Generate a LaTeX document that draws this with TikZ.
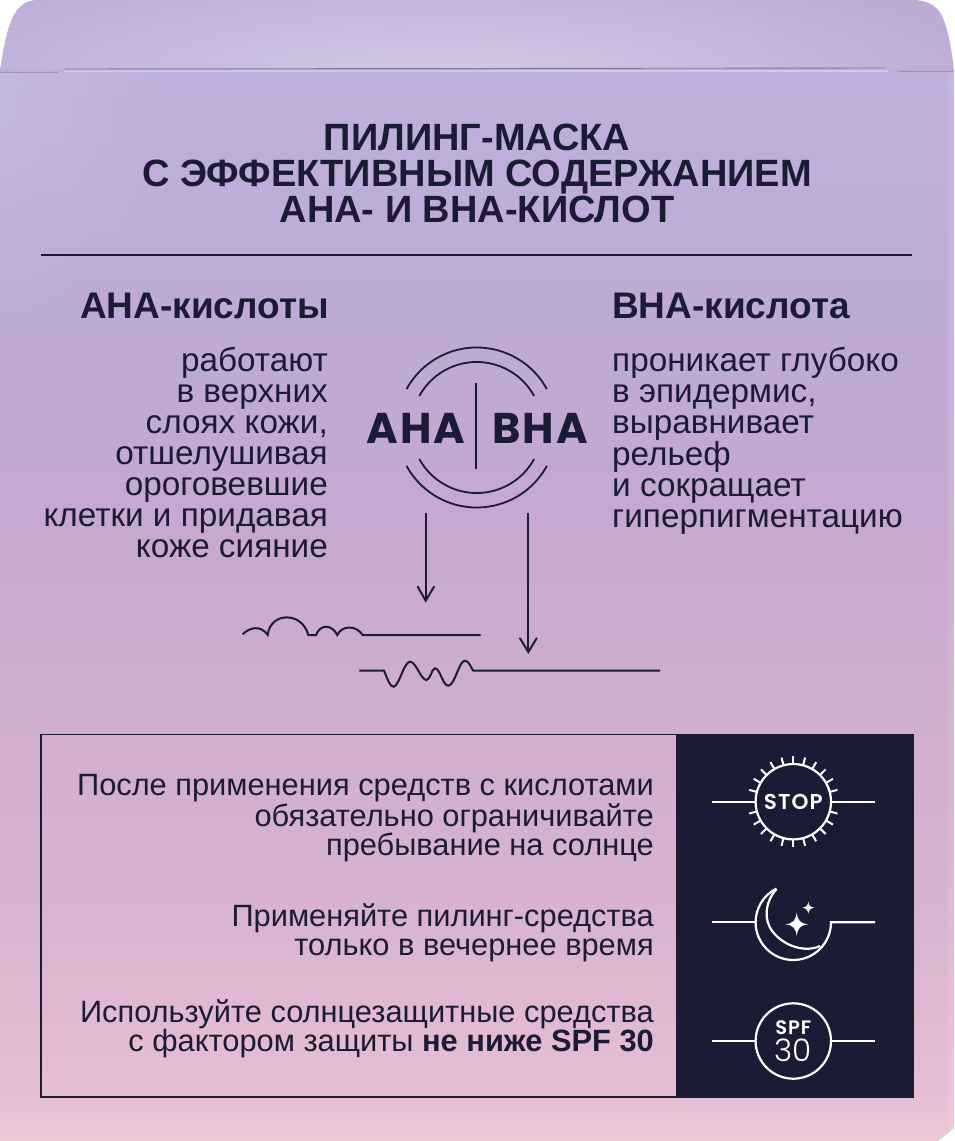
\documentclass[tikz,border=0pt]{standalone}
\usepackage{fontspec}
\usetikzlibrary{fadings}
\setmainfont{Liberation Sans}
\newfontfamily\logofont[LetterSpace=5,UprightFont=* Bold]{Poppins}
\newfontfamily\badgefont[LetterSpace=5,UprightFont=* SemiBold]{Poppins}
\newfontfamily\numfont[UprightFont=* Light]{Poppins}
\definecolor{ink}{HTML}{1C1B36}
\definecolor{c1}{HTML}{BEB0DC}
\definecolor{c2}{HTML}{BDABD6}
\definecolor{c2b}{HTML}{C1A9D2}
\definecolor{c3}{HTML}{C8A9CF}
\definecolor{c4}{HTML}{CFAECD}
\definecolor{c4b}{HTML}{D7B3CE}
\definecolor{c5}{HTML}{E7BFD4}
\definecolor{c6}{HTML}{EFC8D8}
\pgfdeclareverticalshading{boxbg}{100bp}{
 color(0bp)=(c6);
 color(25bp)=(c6);
 color(26.9bp)=(c5);
 color(36.3bp)=(c4b);
 color(45.6bp)=(c4);
 color(52.6bp)=(c3);
 color(58bp)=(c2b);
 color(64.3bp)=(c2);
 color(75bp)=(c1);
 color(100bp)=(c1)}
\tikzfading[name=softglow,inner color=transparent!0,outer color=transparent!100]
\tikzset{
 title/.style={text=ink,align=center,font=\fontsize{38}{35.7}\selectfont\bfseries,inner sep=0pt},
 head/.style={text=ink,font=\fontsize{37}{40}\selectfont\bfseries,inner sep=0pt},
 sidetext/.style={text=ink,font=\fontsize{33.3}{31}\selectfont,inner sep=0pt},
 boxtext/.style={text=ink,align=right,anchor=east,font=\fontsize{30.8}{29}\selectfont,inner sep=0pt},
 ln/.style={draw=ink,line width=2pt},
 wl/.style={draw=white,line width=2.2pt},
 tip/.style={ln,line cap=round,line join=miter}
}
\begin{document}
\begin{tikzpicture}[x=1pt,y=-1pt]
\useasboundingbox (0,0) rectangle (954,1141);
\fill[white] (0,0) rectangle (954,1141);
% box body
\shade[shading=boxbg] (0,72) -- (954,72) -- (954,1128) -- (938,1141) -- (0,1141) -- cycle;
\begin{scope}
\clip (0,72) rectangle (954,1141);
\fill[white,opacity=.1,path fading=softglow] (0,110) ellipse [x radius=170,y radius=230];
\end{scope}
\fill[white,opacity=.1] (948,72) -- (954,72) -- (954,1128) -- (948,1133) -- cycle;
% top flap
\shade[left color=c2!50!c1,right color=c2] (0,72) .. controls (4,40) and (10,16) .. (20,7) .. controls (25,2) and (30,0) .. (38,0) -- (912,0) .. controls (925,0) and (935,4) .. (941,14) .. controls (948,28) and (952,50) .. (954,72) -- cycle;
\begin{scope}
\clip (0,0) rectangle (954,68);
\fill[white,opacity=.34,path fading=softglow] (450,78) ellipse [x radius=560,y radius=120];
\end{scope}
\draw[draw=c2!70!black,line width=.9pt] (65,69) -- (885,68);
\draw[draw=c1!70!white,line width=1.8pt] (64,71.3) -- (888,71);
\draw[draw=c2!85!black,line width=1pt] (0,72.5) -- (58,72.5);
\draw[draw=c2!85!black,line width=1.5pt] (899,71.5) -- (954,71.5);
% title
\node[title] (t) at (477,173.3) {ПИЛИНГ-МАСКА\\С ЭФФЕКТИВНЫМ СОДЕРЖАНИЕМ\\AHA- И BHA-КИСЛОТ};
\coordinate (ra) at (41,255); \coordinate (rb) at (912,255);
\draw[ln] (ra) -- (rb);
% headings
\node[head,anchor=east] (ha) at (329,306) {AHA-кислоты};
\node[head,anchor=west] (hb) at (612,306) {BHA-кислота};
\node[sidetext,align=right,anchor=north east] (ta) at (328,347) {работают\\в верхних\\слоях кожи,\\отшелушивая\\ороговевшие\\клетки и придавая\\коже сияние};
\node[sidetext,align=left,anchor=north west] (tb) at (612,347) {проникает глубоко\\в эпидермис,\\выравнивает\\рельеф\\и сокращает\\гиперпигментацию};
% logo
\coordinate (c) at (476.7,427.5);
\draw[ln,line width=1.8pt] (c) ++(-28.7:80) arc[start angle=-28.7,end angle=-151.3,radius=80];
\draw[ln,line width=1.8pt] (c) ++(-28.8:65.5) arc[start angle=-28.8,end angle=-151.2,radius=65.5];
\draw[ln,line width=1.8pt] (c) ++(28.7:80) arc[start angle=28.7,end angle=151.3,radius=80];
\draw[ln,line width=1.8pt] (c) ++(28.8:65.5) arc[start angle=28.8,end angle=151.2,radius=65.5];
\coordinate (va) at (476.3,383); \coordinate (vb) at (476.3,469);
\draw[ln] (va) -- (vb);
\node[text=ink,inner sep=0pt,font=\logofont\fontsize{43}{43}\selectfont] (la) at (416,428) {AHA};
\node[text=ink,inner sep=0pt,font=\logofont\fontsize{43}{43}\selectfont] (lb) at (540,428) {BHA};
% arrows
\coordinate (a1) at (425.7,512.7); \coordinate (a1e) at (425.7,600.7);
\coordinate (a2) at (528.3,512.7); \coordinate (a2e) at (528.3,652);
\draw[ln] (a1) -- (a1e);
\draw[ln] (a2) -- (a2e);
\draw[tip] (417.7,586.7) -- (a1e) -- (434,586.7);
\draw[tip] (520,638.3) -- (a2e) -- (536.7,638.3);
% surfaces
\draw[ln] (242.7,634.3) .. controls (250,627) and (261,625) .. (267.7,635)
 .. controls (270,612) and (302,611) .. (308.3,635) -- (316,635)
 .. controls (320,624) and (332,624) .. (337.3,635)
 .. controls (342,625) and (356,625) .. (362.7,635) -- (480.7,635);
\draw[ln] (359.3,670.7) -- (384,670.7)
 .. controls (388,680) and (390,687) .. (393.8,686.7)
 .. controls (399,686) and (404,661.7) .. (410,661.7)
 .. controls (416,661.7) and (421,680) .. (426.5,680)
 .. controls (430,680) and (432,668.3) .. (435,668.3)
 .. controls (440,668.3) and (443,686) .. (448.3,685.7)
 .. controls (455,685) and (459,660.7) .. (465,660.7)
 .. controls (469,660.7) and (471,668) .. (473.3,670.7) -- (660,670.7);
% panel
\fill[ink] (676,734) rectangle (913.5,1097.5);
\draw[ln,line width=1.8pt] (41,734.5) rectangle (913.5,1097.2);
\node[boxtext] (b1) at (654,818) {После применения средств с кислотами\\обязательно ограничивайте\\пребывание на солнце};
\node[boxtext] (b2) at (654,933) {Применяйте пилинг-средства\\только в вечернее время};
\node[boxtext] (b3) at (654,1029) {Используйте солнцезащитные средства\\с фактором защиты \textbf{не ниже SPF 30}};
% STOP icon
\node[draw=white,line width=2.2pt,circle,minimum size=75.4pt,inner sep=0pt] (s) at (793.3,801.7) {};
\foreach \a in {15,30,...,165,195,210,...,345}{
 \draw[wl,line width=2pt] (s.center) ++(\a:37.7) -- ++(\a:8);
}
\node[text=white,inner sep=0pt,font=\badgefont\fontsize{21.5}{21.5}\selectfont] (st) at (793.3,802.3) {STOP};
\coordinate (s1) at (711.7,801.7); \coordinate (s2) at (875,801.7);
\draw[wl] (s1) -- (s.west); \draw[wl] (s.east) -- (s2);
% moon icon
\coordinate (m) at (793.3,922.3);
\coordinate (m1) at (711.7,922.3); \coordinate (m2) at (875,922.3);
\draw[wl] (m1) -- (756,922.3);
\draw[wl] (m2) -- (831,922.3) arc[start angle=0,end angle=243.4,radius=37.7];
\draw[wl,line join=miter] (776.5,889) .. controls (765,902) and (763,920) .. (773,932) .. controls (784,946) and (805,953) .. (820,946);
\fill[white] (796.7,912.6) .. controls (797.6,920) and (800,923.6) .. (808.4,924.3) .. controls (800,925) and (797.6,928.6) .. (796.7,936) .. controls (795.8,928.6) and (793.4,925) .. (785,924.3) .. controls (793.4,923.6) and (795.8,920) .. (796.7,912.6) -- cycle;
\fill[white] (808.3,901.7) .. controls (808.8,905.5) and (810.4,907.2) .. (814.3,907.7) .. controls (810.4,908.2) and (808.8,910) .. (808.3,913.7) .. controls (807.8,910) and (806.2,908.2) .. (802.3,907.7) .. controls (806.2,907.2) and (807.8,905.5) .. (808.3,901.7) -- cycle;
% SPF icon
\node[draw=white,line width=2.2pt,circle,minimum size=75.4pt,inner sep=0pt] (p) at (793.3,1041) {};
\node[text=white,inner sep=0pt,font=\badgefont\fontsize{19.5}{19.5}\selectfont] (pt) at (793.3,1027.5) {SPF};
\node[text=white,inner sep=0pt,font=\numfont\fontsize{31}{31}\selectfont] (pn) at (793.3,1050.7) {30};
\coordinate (p1) at (711.7,1041); \coordinate (p2) at (875,1041);
\draw[wl] (p1) -- (p.west); \draw[wl] (p.east) -- (p2);
\end{tikzpicture}
\end{document}
